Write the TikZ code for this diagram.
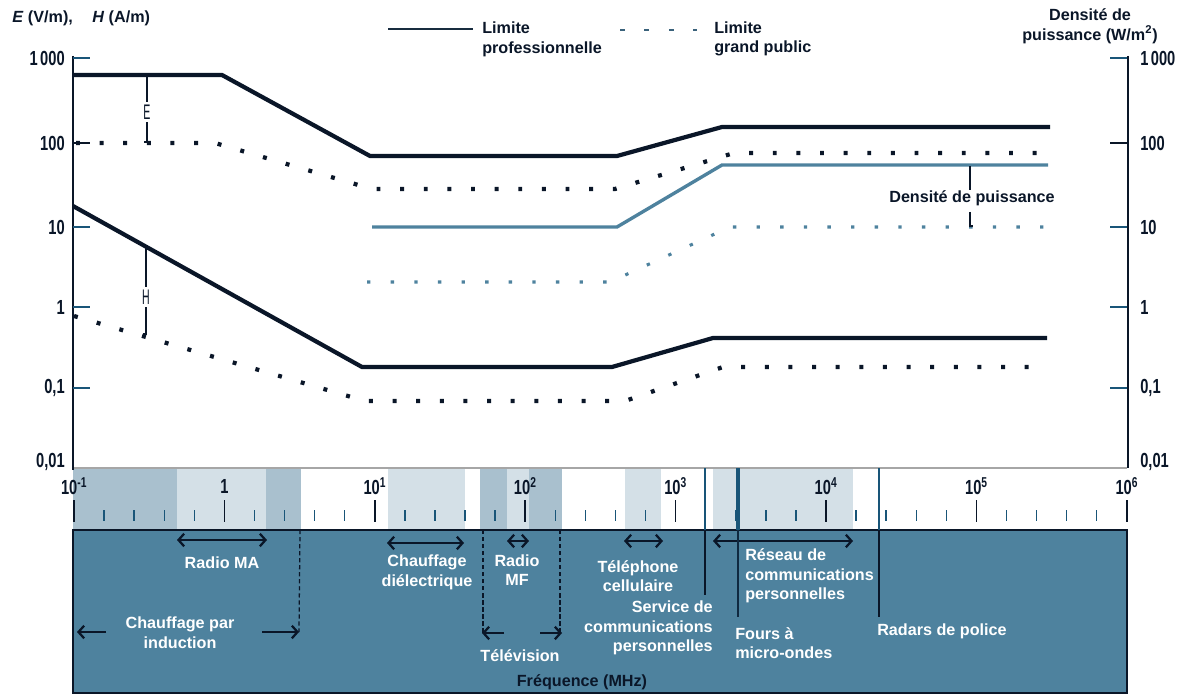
\documentclass[tikz,border=0pt]{standalone}
\usepackage{fontspec}
\setmainfont{Liberation Sans}
\usetikzlibrary{arrows.meta}
\definecolor{navy}{RGB}{10,22,40}
\definecolor{steel}{RGB}{78,130,158}
\definecolor{tickblue}{RGB}{25,85,120}
\definecolor{bandmid}{RGB}{169,192,206}
\definecolor{bandlight}{RGB}{212,224,231}
\newcommand{\squeeze}[1]{\scalebox{0.72}[1]{#1}}
\tikzset{
  >={Straight Barb[length=4pt, width=9pt]},
  lbl/.style={font=\bfseries\fontsize{11.5}{14}\selectfont, text=white, inner sep=0pt, align=center},
  txt/.style={font=\bfseries\fontsize{11.5}{14}\selectfont, text=navy, inner sep=0pt},
  num/.style={font=\bfseries\fontsize{14.5}{16}\selectfont, text=navy, inner sep=0pt},
  prof/.style={line width=3pt, navy},
  pub/.style={line width=3pt, navy, dash pattern=on 2.8pt off 14pt},
  dens/.style={line width=2.4pt, steel},
  denspub/.style={line width=2.2pt, steel, dash pattern=on 2.4pt off 14.4pt},
  rng/.style={line width=1.6pt, navy},
  lim/.style={line width=0.9pt, navy, dash pattern=on 3pt off 2pt},
  ptr/.style={line width=0.9pt, navy},
}
\begin{document}
\begin{tikzpicture}[x=0.025cm,y=-0.025cm]
  \useasboundingbox (0,0) rectangle (1185,696);

  % bands
  \fill[bandmid] (73,468) rectangle (177,530);
  \fill[bandlight] (177,468) rectangle (266,530);
  \fill[bandmid] (266,468) rectangle (301,530);
  \fill[bandlight] (388,468) rectangle (465,530);
  \fill[bandmid] (480,468) rectangle (507,530);
  \fill[bandlight] (507,468) rectangle (529,530);
  \fill[bandmid] (529,468) rectangle (562,530);
  \fill[bandlight] (625,468) rectangle (661,530);
  \fill[bandlight] (713,468) rectangle (853,530);
  \draw[gray!70, line width=0.8pt] (73,468) -- (1127,468);

  \foreach \k in {0,...,35}
    \draw[tickblue, line width=1pt] ({74+30.08*\k},510) -- ({74+30.08*\k},521);
  \foreach \k/\t in {0/{10\textsuperscript{-1}}, 1/1, 2/{10\textsuperscript{1}}, 3/{10\textsuperscript{2}},
                     4/{10\textsuperscript{3}}, 5/{10\textsuperscript{4}}, 6/{10\textsuperscript{5}}, 7/{10\textsuperscript{6}}} {
    \draw[navy, line width=1.1pt] ({74+150.4*\k},500) -- ({74+150.4*\k},522);
    \node[num] (d\k) at ({74+150.4*\k},486) {\squeeze{\t}};
  }

  % frequency box
  \draw[fill=steel, draw=navy, line width=1.3pt] (73,530) rectangle (1127,693);

  % axes
  \draw[navy, line width=1pt] (73,56) -- (73,470);
  \draw[navy, line width=1pt] (1128,56) -- (1128,468);
  \foreach \y/\t in {58/{1\,000}, 143/100, 227/10, 307/1, 388/{0,1}, 462/{0,01}} {
    \node[num, anchor=east] (yl\y) at (65,\y) {\squeeze{\t}};
    \node[num, anchor=west] (yr\y) at (1140,\y) {\squeeze{\t}};
  }
  \foreach \y in {58,227,307,388} {
    \draw[tickblue, line width=1.2pt] (73,\y) -- (90,\y);
    \draw[tickblue, line width=1.2pt] (1110,\y) -- (1127,\y);
  }
  \draw[navy, line width=1.2pt] (73,143) -- (90,143);
  \draw[navy, line width=1.2pt] (1110,143) -- (1127,143);

  \node[txt, anchor=west] (ylab) at (12,18) {\textit{E} (V/m),\hspace{1.2em}\textit{H} (A/m)};
  \node[txt, align=center] (dlab) at (1090,26) {Densité de\\puissance (W/m\textsuperscript{2})};

  % legend
  \coordinate (lp1) at (388,29);
  \coordinate (lp2) at (473,29);
  \draw[navy!80!steel, line width=1.8pt] (lp1) -- (lp2);
  \node[txt, anchor=west, align=left] (lpt) at (482,39) {Limite\\professionnelle};
  \coordinate (lg1) at (620,30);
  \coordinate (lg2) at (697,30);
  \draw[steel!70!navy, line width=1.6pt, dash pattern=on 3.5pt off 13.9pt] (lg1) -- (lg2);
  \node[txt, anchor=west, align=left] (lgt) at (714,39) {Limite\\grand public};

  % limits
  \draw[prof] (73,75) -- (222,75) -- (370,156) -- (617,156) -- (722,127) -- (1050,127);
  \draw[pub] (76,143) -- (215,143) -- (372,189) -- (615,189) -- (734,153) -- (1048,153);
  \draw[prof] (73,206) -- (362,367) -- (612,367) -- (713,338) -- (1047,338);
  \draw[pub] (74,316) -- (365,401) -- (625,401) -- (723,367) -- (1036,367);
  \draw[dens] (372,227) -- (617,227) -- (722,165) -- (1048,165);
  \draw[denspub] (367,282) -- (610,282) -- (730,227) -- (1049,227);

  \node[font=\fontsize{15}{17}\selectfont, text=navy, inner sep=2pt] (elab) at (147,112) {\scalebox{0.5}[1]{E}};
  \coordinate (ep1) at (147,77);
  \coordinate (ep2) at (147,142);
  \draw[ptr] (ep1) -- (elab.north);
  \draw[ptr] (elab.south) -- (ep2) -- ++(-3,0);
  \node[font=\fontsize{15}{17}\selectfont, text=navy, inner sep=2pt] (hlab) at (146,297) {\scalebox{0.5}[1]{H}};
  \coordinate (hp1) at (146,247);
  \coordinate (hp2) at (146,334);
  \draw[ptr] (hp1) -- (hlab.north);
  \draw[ptr] (hlab.south) -- (hp2) -- ++(-3,0);
  \node[txt] (dp) at (972,198) {Densité de puissance};
  \coordinate (dp1) at (970,166);
  \coordinate (dp2) at (970,226);
  \draw[ptr] (dp1) -- (dp1 |- dp.north);
  \draw[ptr] (dp1 |- dp.south) ++(0,6) -- (dp2) -- ++(3,0);

  % ranges
  \coordinate (ma1) at (177,540);
  \coordinate (ma2) at (267,540);
  \draw[rng, <->] (ma1) -- (ma2);
  \node[lbl] (ma) at (222,563) {Radio MA};

  \coordinate (in0) at (300,530);
  \coordinate (in1) at (106,632);
  \coordinate (in2) at (77,632);
  \coordinate (in3) at (262,632);
  \coordinate (in4) at (299,632);
  \draw[lim] (in0) -- (in4);
  \draw[rng, ->] (in1) -- (in2);
  \draw[rng, ->] (in3) -- (in4);
  \node[lbl] (ind) at (180,633) {Chauffage par\\induction};

  \coordinate (cd1) at (387,543);
  \coordinate (cd2) at (464,543);
  \draw[rng, <->] (cd1) -- (cd2);
  \node[lbl] (cd) at (427,572) {Chauffage\\diélectrique};

  \coordinate (mf1) at (507,541);
  \coordinate (mf2) at (529,541);
  \draw[rng, <->] (mf1) -- (mf2);
  \node[lbl] (mf) at (517,570) {Radio\\MF};

  \coordinate (tv0) at (483,530);
  \coordinate (tv1) at (504,633);
  \coordinate (tv2) at (482,633);
  \coordinate (tv3) at (560,530);
  \coordinate (tv4) at (540,633);
  \coordinate (tv5) at (562,633);
  \draw[lim] (tv0) -- (tv0 |- tv1);
  \draw[lim] (tv3) -- (tv3 |- tv4);
  \draw[rng, ->] (tv1) -- (tv2);
  \draw[rng, ->] (tv4) -- (tv5);
  \node[lbl] (tv) at (520,656) {Télévision};

  \coordinate (tc1) at (624,541);
  \coordinate (tc2) at (663,541);
  \draw[rng, <->] (tc1) -- (tc2);
  \node[lbl] (tc) at (638,576) {Téléphone\\cellulaire};

  \coordinate (sc0) at (705,468);
  \coordinate (sc1) at (705,530);
  \coordinate (sc2) at (705,595);
  \draw[tickblue, line width=2pt] (sc0) -- (sc1);
  \draw[navy, line width=0.8pt] (sc1) -- (sc2);
  \node[lbl, anchor=east, align=right] (sc) at (713,628) {Service de\\communications\\personnelles};

  \coordinate (rc1) at (713,541);
  \coordinate (rc2) at (853,541);
  \draw[rng, <->] (rc1) -- (rc2);
  \node[lbl, anchor=west, align=left] (rc) at (745,576) {Réseau de\\communications\\personnelles};

  \coordinate (fo0) at (738,468);
  \coordinate (fo1) at (738,530);
  \coordinate (fo2) at (738,617);
  \draw[tickblue, line width=2.2pt] (fo0) -- (fo1);
  \draw[navy!70!tickblue, line width=2pt] (fo1) -- (fo2);
  \node[lbl, anchor=west, align=left] (fo) at (735,643) {Fours à\\micro-ondes};

  \coordinate (rp0) at (879,468);
  \coordinate (rp1) at (879,530);
  \coordinate (rp2) at (879,617);
  \draw[tickblue, line width=2pt] (rp0) -- (rp1);
  \draw[navy, line width=0.8pt] (rp1) -- (rp2);
  \node[lbl, anchor=west] (rp) at (877,631) {Radars de police};

  \node[txt] (freq) at (582,682) {Fréquence (MHz)};
\end{tikzpicture}
\end{document}
